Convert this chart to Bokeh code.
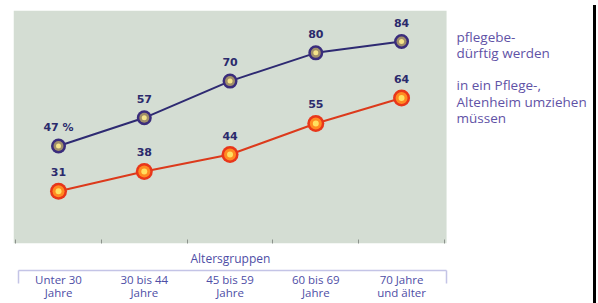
from bokeh.plotting import figure
from bokeh.layouts import row
from bokeh.models import (Range1d, LinearAxis, FixedTicker, Label, BoxAnnotation,
                          CustomJSTickFormatter, Div, Title)
from bokeh.core.properties import value
from bokeh.embed import file_html
from bokeh.resources import INLINE

# ---- data ----
categories = ["Unter 30\nJahre", "30 bis 44\nJahre", "45 bis 59\nJahre",
              "60 bis 69\nJahre", "70 Jahre\nund älter"]
pflegebeduerftig = [47, 57, 70, 80, 84]
pflegeheim = [31, 38, 44, 55, 64]
blue_labels = ["47 %", "57", "70", "80", "84"]
red_labels = ["31", "38", "44", "55", "64"]
series_names = ["pflegebe-\ndürftig werden",
                "in ein Pflege-,\nAltenheim umziehen\nmüssen"]
axis_title = "Altersgruppen"

xs = list(range(len(categories)))
n = len(categories)

FONT = "Open Sans"
NAVY = "#2b2a6c"
TXT = "#4e4ea6"

p = figure(width=588, height=303,
           x_range=Range1d(-0.525, 6.18), y_range=Range1d(12.5, 95),
           output_backend="svg", toolbar_location=None,
           x_axis_location=None, y_axis_location=None,
           min_border_left=13, min_border_top=10, min_border_right=0,
           min_border_bottom=0)
p.background_fill_color = "white"
p.border_fill_color = "white"
p.outline_line_color = None
p.grid.grid_line_color = None

# grey plotting panel behind the categories
p.add_layout(BoxAnnotation(left=-0.525, right=n - 0.475, fill_color="#d4ddd3",
                           fill_alpha=1, line_color=None, level="underlay"))

# axis with boundary ticks (no labels)
ax1 = LinearAxis(ticker=FixedTicker(ticks=[i - 0.5 for i in range(n + 1)], minor_ticks=[]),
                 bounds=(-0.5, n - 0.5),
                 formatter=CustomJSTickFormatter(code="return ''"),
                 axis_line_color=None, major_tick_in=4, major_tick_out=0,
                 major_tick_line_color="#8c928c", major_label_standoff=0,
                 minor_tick_line_color=None)
# bracket axis with category labels
ax2 = LinearAxis(ticker=FixedTicker(ticks=xs, minor_ticks=[-0.47, n - 0.48]),
                 bounds=(-0.47, n - 0.48),
                 axis_line_color="#c4c4e6", axis_line_width=1.5,
                 major_tick_line_color=None, major_tick_in=0, major_tick_out=0,
                 minor_tick_in=-13, minor_tick_out=0,
                 minor_tick_line_color="#c4c4e6", minor_tick_line_width=1.5,
                 major_label_overrides={i: c for i, c in enumerate(categories)},
                 major_label_standoff=1, major_label_text_font=FONT,
                 major_label_text_line_height=0.93,
                 major_label_text_font_size="11.5px", major_label_text_color=TXT)
p.add_layout(ax1, "below")
p.add_layout(Title(text=axis_title, align="left", offset=177, standoff=8,
                   text_font=FONT, text_font_size="12px", text_font_style="normal",
                   text_color=TXT), "below")
p.add_layout(ax2, "below")

# blue series
p.line(xs, pflegebeduerftig, line_color="#2e2a72", line_width=2)
p.scatter(xs, pflegebeduerftig, size=15, fill_color="#3a2c7c", line_color=None)
p.scatter(xs, pflegebeduerftig, size=10, fill_color="#a08e6a", line_color=None)
p.scatter(xs, pflegebeduerftig, size=5, fill_color="#f6e48a", line_color=None)

# red series
p.line(xs, pflegeheim, line_color="#dc3a1c", line_width=2)
p.scatter(xs, pflegeheim, size=17, fill_color="#e8361a", line_color=None)
p.scatter(xs, pflegeheim, size=12, fill_color="#ff8a22", line_color=None)
p.scatter(xs, pflegeheim, size=6, fill_color="#ffe060", line_color=None)

for ys, labs in ((pflegebeduerftig, blue_labels), (pflegeheim, red_labels)):
    p.text(xs, ys, text=labs, text_align="center", text_baseline="middle",
           y_offset=-19, text_font=value("DejaVu Sans"), text_font_style="bold",
           text_font_size="11px", text_color=NAVY)

for name, ys in zip(series_names, (pflegebeduerftig, pflegeheim)):
    p.add_layout(Label(x=xs[-1], y=ys[-1], x_offset=55, y_offset=-3.5, text=name,
                       text_baseline="middle", text_align="left",
                       text_font=FONT, text_font_size="13.5px",
                       text_color="#5f52a6", text_line_height=0.93))

edge = Div(width=3, height=303, styles={"background-color": "black"})

open("out.html", "w").write(file_html(row(p, edge), INLINE))
